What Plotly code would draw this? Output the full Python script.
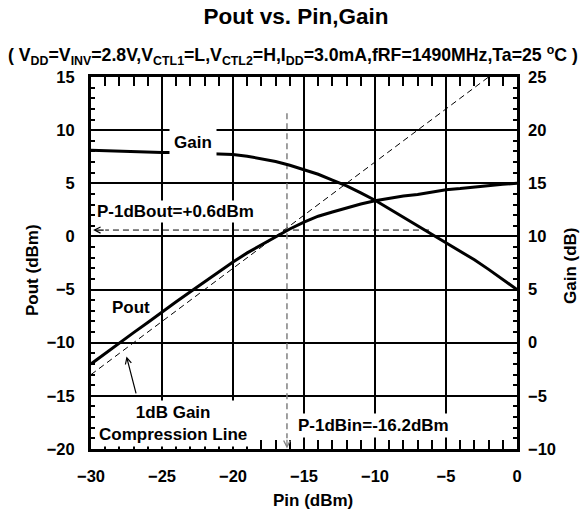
import plotly.graph_objects as go

# ---- data ----
pin = [-30, -29, -28, -27, -26, -25, -24, -23, -22, -21, -20, -19, -18, -17, -16,
       -15, -14, -13, -12, -11, -10, -9, -8, -7, -6, -5, -4, -3, -2, -1, 0]
pout = [-12.0, -11.0, -10.05, -9.05, -8.1, -7.1, -6.15, -5.2, -4.25, -3.3, -2.4,
        -1.55, -0.8, -0.05, 0.7, 1.35, 1.9, 2.3, 2.7, 3.05, 3.35, 3.6, 3.8, 3.95,
        4.2, 4.4, 4.5, 4.65, 4.8, 4.9, 5.0]
gain = [18.1, 18.05, 18.0, 17.95, 17.95, 17.9, 17.9, 17.85, 17.8, 17.75, 17.7,
        17.55, 17.3, 17.05, 16.7, 16.3, 15.85, 15.3, 14.75, 14.1, 13.4, 12.6, 11.8,
        11.0, 10.2, 9.4, 8.6, 7.8, 6.9, 5.95, 5.0]
comp_pin = [-30, -2]
comp_pout = [-13, 15]
p1db_in = -16.2
p1db_out = 0.6
vguide_pout = [11.6, -19.0]      # vertical guide extent (Pout axis)
hguide_pin = [-6.2, -29.0]       # horizontal guide extent (Pin axis)

x_ticks = [-30, -25, -20, -15, -10, -5, 0]
y_ticks = [-20, -15, -10, -5, 0, 5, 10, 15]
y2_ticks = [-10, -5, 0, 5, 10, 15, 20, 25]

FONT = "Arial, Liberation Sans, sans-serif"
BLACK = "#000000"

W, H = 585, 512
PL, PR, PT, PB = 91, 517, 77, 449      # plot area in pixels


def px(x):
    return (x - PL) / (PR - PL)


def py(y):
    return (PB - y) / (PB - PT)


fig = go.Figure()
fig.add_trace(go.Scatter(x=comp_pin, y=comp_pout, mode="lines",
                         line=dict(color=BLACK, width=1, dash="6px,4px"),
                         hoverinfo="skip", showlegend=False))
fig.add_trace(go.Scatter(x=[p1db_in, p1db_in], y=vguide_pout, mode="lines",
                         line=dict(color="#808080", width=1.5, dash="6px,4px"),
                         showlegend=False))
fig.add_trace(go.Scatter(x=hguide_pin, y=[p1db_out, p1db_out], mode="lines",
                         line=dict(color=BLACK, width=1, dash="6px,4px"),
                         showlegend=False))
fig.add_trace(go.Scatter(x=pin, y=pout, mode="lines", name="Pout",
                         line=dict(color=BLACK, width=3), showlegend=False))
fig.add_trace(go.Scatter(x=pin, y=gain, mode="lines", name="Gain", yaxis="y2",
                         line=dict(color=BLACK, width=3), showlegend=False))

tickfont = dict(family=FONT, size=16.5, color=BLACK, weight="bold")
axis_common = dict(showline=True, linecolor=BLACK, linewidth=3,
                   showgrid=True, gridcolor=BLACK, gridwidth=2,
                   ticks="inside", ticklen=9, tickwidth=1.5, tickcolor=BLACK,
                   tickfont=tickfont, zeroline=False, ticklabelstandoff=10)

fig.update_layout(
    width=W, height=H,
    margin=dict(l=PL, r=W - PR, t=PT, b=H - PB),
    paper_bgcolor="white", plot_bgcolor="white",
    font=dict(family=FONT, color=BLACK, weight="bold"),
    showlegend=False,
    title=dict(text="Pout vs. Pin,Gain", xref="container", x=296 / W,
               xanchor="center", yref="container", y=1 - 16 / H,
               yanchor="middle",
               font=dict(family=FONT, size=22.5, color=BLACK, weight="bold")),
    xaxis=dict(range=[-30, 0], tickvals=x_ticks, mirror="allticks",
               minor=dict(dtick=1, ticks="inside", ticklen=4, tickwidth=1.5,
                          tickcolor=BLACK, showgrid=False),
               **axis_common),
    yaxis=dict(range=[-20, 15], tickvals=y_ticks, mirror="allticks",
               minor=dict(dtick=1, ticks="inside", ticklen=4, tickwidth=1.5,
                          tickcolor=BLACK, showgrid=False),
               **axis_common),
    yaxis2=dict(range=[-10, 25], tickvals=y2_ticks, overlaying="y", side="right",
                showline=False, showgrid=False, ticks="", zeroline=False,
                tickfont=tickfont, ticklabelstandoff=10),
)

ann_font = dict(family=FONT, size=17, color=BLACK, weight="bold")
sub_font = dict(family=FONT, size=17.7, color=BLACK, weight="bold")
sub = ("( V<sub>DD</sub>=V<sub>INV</sub>=2.8V,V<sub>CTL1</sub>=L,V<sub>CTL2</sub>=H,"
       "I<sub>DD</sub>=3.0mA,fRF=1490MHz,Ta=25 <sup>o</sup>C )")
annotations = [
    dict(text=sub, xref="paper", yref="paper", x=px(293), y=py(55),
         xanchor="center", yanchor="middle", showarrow=False, font=sub_font),
    dict(text="Pin (dBm)", xref="paper", yref="paper", x=px(313), y=py(500),
         xanchor="center", yanchor="middle", showarrow=False, font=ann_font),
    dict(text="Pout (dBm)", xref="paper", yref="paper", x=px(32), y=py(270),
         xanchor="center", yanchor="middle", showarrow=False, textangle=-90,
         font=ann_font),
    dict(text="Gain (dB)", xref="paper", yref="paper", x=px(570), y=py(266),
         xanchor="center", yanchor="middle", showarrow=False, textangle=-90,
         font=ann_font),
    dict(text="Gain", x=-22.8, y=8.8, showarrow=False, bgcolor="white",
         borderpad=4, font=ann_font),
    dict(text="P-1dBout=+0.6dBm", x=-29.75, y=2.3, xanchor="left", showarrow=False,
         bgcolor="white", borderpad=1, font=ann_font),
    dict(text="Pout", x=-27.2, y=-6.7, showarrow=False, font=ann_font),
    dict(text="1dB Gain<br>Compression Line", x=-24.2, y=-17.6, showarrow=False,
         bgcolor="white", borderpad=2, font=ann_font),
    dict(text="P-1dBin=-16.2dBm", x=-10.1, y=-17.8, showarrow=False,
         bgcolor="white", borderpad=2, font=ann_font),
    # arrow from label to compression line
    dict(text="", x=-27.5, y=-11.3, ax=-26.8, ay=-14.9, axref="x", ayref="y",
         showarrow=True, arrowhead=5, arrowsize=1, arrowwidth=1.2, arrowcolor=BLACK),
    # arrowheads at ends of guides
    dict(text="", x=p1db_in, y=-19.95, ax=p1db_in, ay=-19.0, axref="x", ayref="y",
         showarrow=True, arrowhead=5, arrowsize=1, arrowwidth=1.3, arrowcolor="#808080"),
    dict(text="", x=-29.85, y=p1db_out, ax=-29.0, ay=p1db_out, axref="x", ayref="y",
         showarrow=True, arrowhead=5, arrowsize=1, arrowwidth=1.2, arrowcolor=BLACK),
]
fig.update_layout(annotations=annotations)

fig.write_html("out.html",
               config={"displayModeBar": False},
               post_script="document.body.style.margin='0px';"
                           "document.body.style.overflow='hidden';")
